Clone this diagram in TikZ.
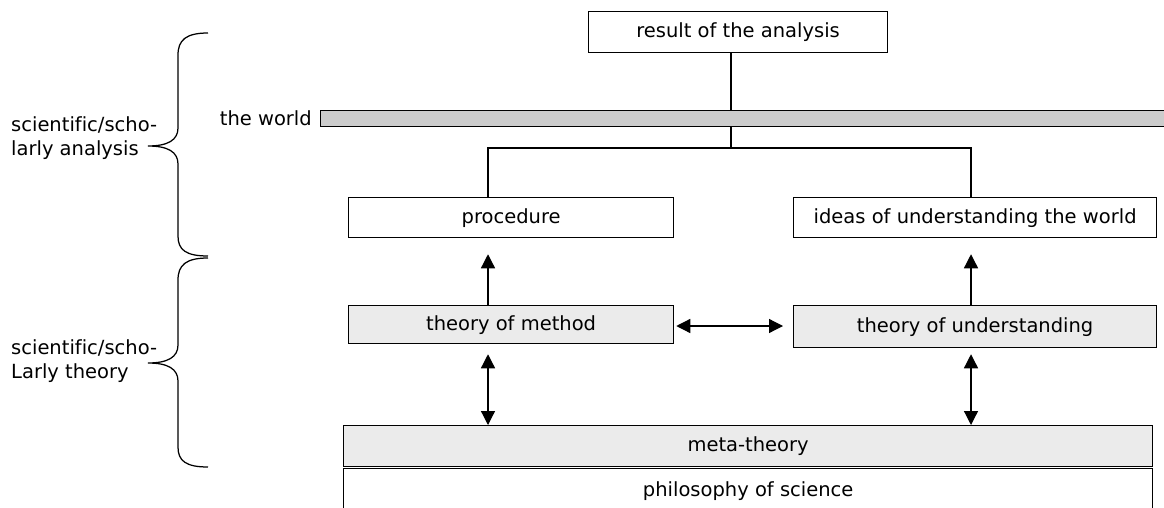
\documentclass[tikz,border=0pt]{standalone}
\usepackage{fontspec}
\setmainfont[Ligatures={NoCommon}]{DejaVu Sans}
\usetikzlibrary{arrows.meta}
\definecolor{worldgray}{HTML}{CCCCCC}
\definecolor{boxgray}{HTML}{EBEBEB}
\begin{document}
\begin{tikzpicture}[x=1pt,y=-1pt,
  font=\fontsize{19.5}{23.5}\selectfont,
  box/.style={draw, line width=1.25pt, inner sep=0pt, anchor=north west},
  shaded/.style={fill=boxgray},
  conn/.style={line width=1.25pt},
  arr/.style={line width=1.25pt, -{Triangle[length=14pt,width=14pt]}},
  darr/.style={line width=1.25pt, {Triangle[length=14pt,width=14pt]}-{Triangle[length=14pt,width=14pt]}},
  brace/.style={line width=1.25pt},
  lbl/.style={anchor=west, align=left, inner sep=0pt}]
\useasboundingbox (0,0) rectangle (1164,508);
\clip (0,0) rectangle (1164,508);

% boxes
\node[box, minimum width=299pt, minimum height=41pt] (result) at (588,11) {result of the analysis};
\node[box, fill=worldgray, minimum width=860pt, minimum height=16pt] (world) at (320,110) {};
\node[anchor=east, inner sep=0pt] (worldlbl) at (312,118) {the world};
\node[box, minimum width=325pt, minimum height=40pt] (proc) at (348,197) {procedure};
\node[box, minimum width=363pt, minimum height=40pt] (ideas) at (793,197) {ideas of understanding the world};
\node[box, shaded, minimum width=325pt, minimum height=38pt] (tom) at (348,305) {theory of method};
\node[box, shaded, minimum width=363pt, minimum height=42pt] (tou) at (793,305) {theory of understanding};
\node[box, shaded, minimum width=809pt, minimum height=41pt] (meta) at (343,425) {meta-theory};
\node[box, minimum width=809pt, minimum height=44pt] (phil) at (343,468) {philosophy of science};

% helper coordinates
\coordinate (cL) at (488,0);
\coordinate (cR) at (971,0);
\coordinate (split) at (731,148);
\coordinate (hy) at (0,326);

% connectors
\draw[conn] (result.south -| split) -- (world.north -| split);
\draw[conn] (world.south -| split) -- (split);
\draw[conn] (proc.north -| cL) |- (split) -| (ideas.north -| cR);
\draw[arr, shorten >=16pt] (tom.north -| cL) -- (proc.south -| cL);
\draw[arr, shorten >=16pt] (tou.north -| cR) -- (ideas.south -| cR);
\draw[darr, shorten <=2pt, shorten >=10pt] (tom.east |- hy) -- (tou.west |- hy);
\draw[darr, shorten <=10pt] (tom.south -| cL) -- (meta.north -| cL);
\draw[darr, shorten <=6pt] (tou.south -| cR) -- (meta.north -| cR);

% braces
\draw[brace] (208,33) .. controls (186,33) and (178,40) .. (178,55) -- (178,128)
  .. controls (178,140) and (168,146) .. (148,146)
  .. controls (168,146) and (178,152) .. (178,164) -- (178,236)
  .. controls (178,250) and (186,256) .. (208,256);
\draw[brace] (208,258) .. controls (186,258) and (178,265) .. (178,280) -- (178,345)
  .. controls (178,357) and (168,363) .. (148,363)
  .. controls (168,363) and (178,369) .. (178,381) -- (178,447)
  .. controls (178,461) and (186,467) .. (208,467);

% labels
\node[lbl] (lab1) at (11,138) {scientific/scho-\\larly analysis};
\node[lbl] (lab2) at (11,361) {scientific/scho-\\Larly theory};
\end{tikzpicture}
\end{document}
